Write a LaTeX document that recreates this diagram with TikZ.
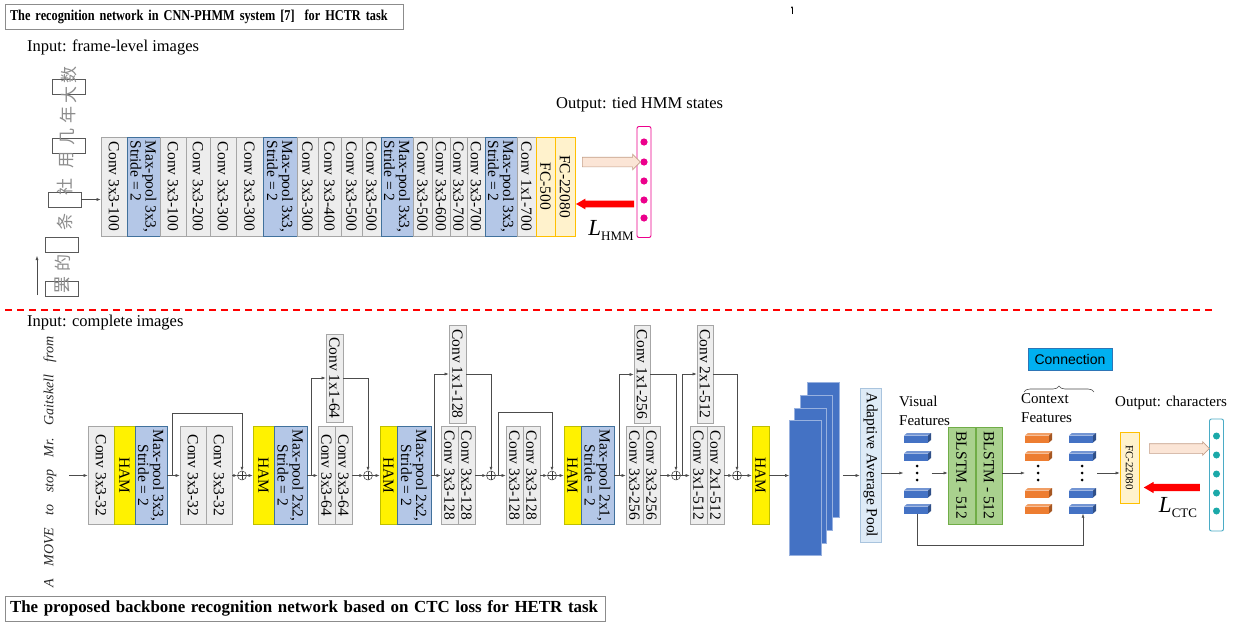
\documentclass[tikz,border=0pt]{standalone}
\usepackage{fontspec}
\setmainfont{Liberation Serif}
\newfontfamily\sansf{Liberation Sans}
\newfontfamily\narrowf[FakeStretch=0.82]{Liberation Serif}
\newfontfamily\cjk{Noto Sans CJK SC}
\usetikzlibrary{arrows.meta,positioning,calc,decorations.pathreplacing,shapes.arrows}
\definecolor{convfill}{HTML}{EDEDED}
\definecolor{convline}{HTML}{A6A6A6}
\definecolor{poolfill}{HTML}{B4C7E7}
\definecolor{poolline}{HTML}{41719C}
\definecolor{hamline}{HTML}{BFBF00}
\definecolor{fcfill}{HTML}{FFF2CC}
\definecolor{fcline}{HTML}{FFC000}
\definecolor{featblue}{HTML}{4472C4}
\definecolor{featorange}{HTML}{ED7D31}
\definecolor{lstmfill}{HTML}{A9D18E}
\definecolor{lstmline}{HTML}{70AD47}
\definecolor{avgfill}{HTML}{DEEBF7}
\definecolor{avgline}{HTML}{A9C4DE}
\definecolor{connfill}{HTML}{00B0F0}
\definecolor{connline}{HTML}{2E75B6}
\definecolor{peach}{HTML}{FBE5D6}
\definecolor{peachline}{HTML}{C5A08A}
\definecolor{outteal}{HTML}{4BACC6}
\definecolor{dotteal}{HTML}{1BA9A9}
\newcommand{\fbar}[3]{% one feature vector: left x, top y, colour
 \fill[#3] (#1,#2+2.5) rectangle (#1+24,#2+9.5);
 \fill[#3!75!white] (#1,#2+2.5) -- (#1+3,#2) -- (#1+27,#2) -- (#1+24,#2+2.5) -- cycle;
 \fill[#3!70!black] (#1+24,#2+2.5) -- (#1+27,#2) -- (#1+27,#2+7) -- (#1+24,#2+9.5) -- cycle;}
\newcommand{\vdotz}[1]{% dots between the vectors
 \foreach \d in {-7,0,7} \fill (#1,473+\d) circle (1.5);}

\begin{document}
\begin{tikzpicture}[x=1pt,y=-1pt,font=\fontsize{15.5}{12}\selectfont,
 blk/.style={draw=#1,line width=.6pt,inner sep=0pt,minimum height=98},
 conv/.style={blk=convline,fill=convfill},
 pool/.style={blk=poolline,fill=poolfill},
 ham/.style={blk=hamline,fill=yellow},
 fc/.style={blk=fcline,fill=fcfill},
 vtxt/.style={label={[rotate=-90,align=center]center:#1}},
 vtxl/.style={label={[rotate=-90,align=left]center:#1}},
 arr/.style={-{Latex[length=4pt,width=3pt]},draw=black!70,line width=.5pt},
 oplus/.style={circle,draw=black!80,line width=.5pt,inner sep=0pt,minimum size=9,
  path picture={\draw[line width=.5pt] (path picture bounding box.north) -- (path picture bounding box.south)
   (path picture bounding box.west) -- (path picture bounding box.east);}},
 title/.style={draw=black!45,line width=.6pt,inner xsep=5pt,minimum height=25,align=left},
 frame/.style={draw=black!65,line width=.5pt,minimum width=33,minimum height=15,inner sep=0pt},
 fmap/.style={draw=featblue!55!white,fill=featblue,line width=.6pt,minimum width=32,minimum height=135,inner sep=0pt},
 col/.style={minimum width=28,minimum height=81,inner sep=0pt},
 outcol/.style={draw=#1,line width=.9pt,rounded corners=2pt,fill=white,minimum width=14,inner sep=0pt},
 fatarr/.style={single arrow,draw=peachline,fill=peach,inner xsep=0pt,inner ysep=4.5pt,
  single arrow head extend=3pt,single arrow tip angle=90,line width=.6pt},
 lossarr/.style={single arrow,fill=red,inner xsep=0pt,inner ysep=3.2pt,single arrow head extend=2pt,
  single arrow tip angle=60,shape border rotate=180},
 lbl/.style={font=\fontsize{16.5}{19}\selectfont,inner sep=0pt}]
\fill[white] (0,0) rectangle (1235,624);
% ---- CNN-PHMM part
\node[title,text width=388,font=\narrowf\bfseries\fontsize{15}{15}\selectfont] (ttop) at (204,17)
 {The recognition network in CNN-PHMM system [7]\ \ for HCTR task};
\node[lbl,anchor=west] (intop) at (27,47) {Input: frame-level images};
\foreach \x/\y [count=\i] in {69/87,69/145.5,64.5/199.5,62/244.5,62/288.5}
 \node[frame] (fr\i) at (\x,\y) {};
\foreach \c/\x/\y [count=\i] in {罢/62/285,的/63/263,条/65/222,社/65/187,用/67/160,几/68/137,年/68/115,大/69/95,数/69/75}
 \node[font=\cjk\fontsize{17}{17}\selectfont,text=black!45,rotate=90,inner sep=0pt] (hz\i) at (\x,\y) {\c};
\coordinate (up0) at (37,295); \coordinate (up1) at (37,256);
\draw[arr] (up0) -- (up1);
\foreach \x/\w/\s/\t [count=\i] in {101/26/conv/{Conv 3x3-100},127/33/pool/{Max-pool 3x3,\\Stride = 2},
 160/26/conv/{Conv 3x3-100},186/24/conv/{Conv 3x3-200},210/26/conv/{Conv 3x3-300},236/27/conv/{Conv 3x3-300},
 263/34/pool/{Max-pool 3x3,\\Stride = 2},297/21/conv/{Conv 3x3-300},318/23/conv/{Conv 3x3-400},
 341/21/conv/{Conv 3x3-500},362/19/conv/{Conv 3x3-500},381/32/pool/{Max-pool 3x3,\\Stride = 2},
 413/19/conv/{Conv 3x3-500},432/18/conv/{Conv 3x3-600},450/17/conv/{Conv 3x3-700},467/18/conv/{Conv 3x3-700},
 485/32/pool/{Max-pool 3x3,\\Stride = 2},517/19/conv/{Conv 1x1-700},536/19/fc/{FC-500},555/20/fc/{FC-22080}}
 \node[\s,minimum width=\w,minimum height=99,vtxl=\t] (t\i) at (\x+\w/2,186.5) {};
\draw[arr] (fr3.east) -- (fr3.east -| t1.west);
\node[lbl,anchor=west] (outtop) at (556,105) {Output: tied HMM states};
\node[outcol=magenta,minimum height=111] (hmm) at (644,182) {};
\foreach \y in {142,162,181,200,218} \fill[magenta] (644,\y) circle (3.6);
\node[fatarr,minimum height=58] (fa1) at (609,162) {};
\node[lossarr,minimum height=58] (la1) at (608,204) {};
\node (lhmm) at (611,230) {\fontsize{23}{23}\selectfont\textit{L}\raisebox{-5pt}{\fontsize{13}{13}\selectfont HMM}};
\coordinate (tk0) at (792,14); \coordinate (tk1) at (792,6);
\draw[-{Latex[length=2pt,width=2pt]},line width=.4pt] (tk0) -- (tk1);
% ---- separator
\coordinate (cut0) at (5,310); \coordinate (cut1) at (1215,310);
\draw[red,line width=1.6pt,dash pattern=on 7pt off 5pt] (cut0) -- (cut1);
% ---- CTC part
\node[lbl,anchor=west] (inbot) at (27,323) {Input: complete images};
\node[font=\itshape\fontsize{14}{14}\selectfont,rotate=90,inner sep=0pt,text=black!85] (hwline) at (50,462)
 {\spaceskip=12pt A MOVE to stop Mr. Gaitskell from};
\coordinate (in0) at (69,475.5);
\node[conv,minimum width=26,vtxt={Conv 3x3-32}] (c1) at (101,475.5) {};
\node[ham,minimum width=21,vtxt=HAM] (h1) at (124.5,475.5) {};
\node[pool,minimum width=32,vtxt={Max-pool 3x3,\\Stride = 2}] (p1) at (151,475.5) {};
\node[conv,minimum width=26,vtxt={Conv 3x3-32}] (c2) at (193,475.5) {};
\node[conv,minimum width=26,vtxt={Conv 3x3-32}] (c3) at (219,475.5) {};
\node[oplus] (s1) at (242,475.5) {};
\node[ham,minimum width=21,vtxt=HAM] (h2) at (263.5,475.5) {};
\node[pool,minimum width=33,vtxt={Max-pool 2x2,\\Stride = 2}] (p2) at (290.5,475.5) {};
\node[conv,minimum width=17,vtxt={Conv 3x3-64}] (c4) at (326.5,475.5) {};
\node[conv,minimum width=17,vtxt={Conv 3x3-64}] (c5) at (343.5,475.5) {};
\node[conv,minimum width=17,minimum height=88,vtxt={Conv 1x1-64}] (k1) at (334.5,378) {};
\node[oplus] (s2) at (368,475.5) {};
\node[ham,minimum width=17,vtxt=HAM] (h3) at (388.5,475.5) {};
\node[pool,minimum width=34,vtxt={Max-pool 2x2,\\Stride = 2}] (p3) at (414,475.5) {};
\node[conv,minimum width=17,vtxt={Conv 3x3-128}] (c6) at (449.5,475.5) {};
\node[conv,minimum width=17,vtxt={Conv 3x3-128}] (c7) at (466.5,475.5) {};
\node[conv,minimum width=17,vtxt={Conv 1x1-128}] (k2) at (457.5,374) {};
\node[oplus] (s3) at (491,475.5) {};
\node[conv,minimum width=17,vtxt={Conv 3x3-128}] (c8) at (514.5,475.5) {};
\node[conv,minimum width=17,vtxt={Conv 3x3-128}] (c9) at (531.5,475.5) {};
\node[oplus] (s4) at (552,475.5) {};
\node[ham,minimum width=17,vtxt=HAM] (h4) at (572.5,475.5) {};
\node[pool,minimum width=33,vtxt={Max-pool 2x1,\\Stride = 2}] (p4) at (597.5,475.5) {};
\node[conv,minimum width=17,vtxt={Conv 3x3-256}] (c10) at (634.5,475.5) {};
\node[conv,minimum width=17,vtxt={Conv 3x3-256}] (c11) at (651.5,475.5) {};
\node[conv,minimum width=16,vtxt={Conv 1x1-256}] (k3) at (642,374.5) {};
\node[oplus] (s5) at (676,475.5) {};
\node[conv,minimum width=17,vtxt={Conv 3x1-512}] (c12) at (698.5,475.5) {};
\node[conv,minimum width=17,vtxt={Conv 2x1-512}] (c13) at (715.5,475.5) {};
\node[conv,minimum width=16,vtxt={Conv 2x1-512}] (k4) at (705,374) {};
\node[oplus] (s6) at (737,475.5) {};
\node[ham,minimum width=17,vtxt=HAM] (h5) at (760.5,475.5) {};
\draw[arr] (in0) -- (c1.west);
\foreach \a/\b in {p1/c2,c3/s1,s1/h2,p2/c4,c5/s2,s2/h3,p3/c6,c7/s3,s3/c8,c9/s4,s4/h4,p4/c10,c11/s5,s5/c12,c13/s6,s6/h5}
 \draw[arr] (\a.east) -- (\b.west);
\draw[arr] ($(p1.east)+(5,0)$) -- ++(0,-62.5) -| (s1.north);
\draw[arr] ($(p2.east)+(4,0)$) |- (k1.west);
\draw[arr] (k1.east) -| (s2.north);
\draw[arr] ($(p3.east)+(3,0)$) |- (k2.west);
\draw[arr] (k2.east) -| (s3.north);
\draw[arr] ($(s3.east)+(2.5,0)$) -- ++(0,-63.5) -| (s4.north);
\draw[arr] ($(p4.east)+(5,0)$) |- (k3.west);
\draw[arr] (k3.east) -| (s5.north);
\draw[arr] ($(s5.east)+(1.5,0)$) |- (k4.west);
\draw[arr] (k4.east) -| (s6.north);
% feature maps and sequence part
\foreach \x/\y [count=\i] in {823.5/449.5,816.5/462.5,810.5/475.5,805.5/488}
 \node[fmap] (fm\i) at (\x,\y) {};
\draw[arr] (h5.east) -- (h5.east -| fm4.west);
\node[blk=avgline,fill=avgfill,minimum width=21,minimum height=154,vtxt={Adaptive Average Pool}] (aap) at (870.5,465) {};
\draw[arr] ([xshift=3pt]fm1.east |- h5.east) -- (aap.west |- h5.east);
\node[lbl,font=\fontsize{15}{19}\selectfont,anchor=north west,align=left] (vislab) at (899,396) {Visual\\Features};
\node[col] (vis) at (917.5,473) {};
\foreach \y in {433,451,488,504} \fbar{904}{\y}{featblue};
\vdotz{917}
\node[blk=lstmline,fill=lstmfill,minimum width=27,minimum height=97,vtxt={BLSTM - 512}] (bl1) at (961.5,475.5) {};
\node[blk=lstmline,fill=lstmfill,minimum width=26,minimum height=97,vtxt={BLSTM - 512}] (bl2) at (989,475.5) {};
\node[lbl,font=\fontsize{15}{19}\selectfont,anchor=north west,align=left] (ctxlab) at (1021,393) {Context\\Features};
\node[col] (ctx1) at (1039,473) {};
\node[col] (ctx2) at (1083,473) {};
\foreach \y in {433,451,488,504} {\fbar{1025}{\y}{featorange} \fbar{1069}{\y}{featblue}}
\vdotz{1038} \vdotz{1082}
\draw[decorate,decoration={brace,amplitude=6pt},black!70,line width=.6pt] (1024,392) -- (1094,392);
\node[draw=connline,fill=connfill,minimum width=84,minimum height=22,inner sep=0pt,
 font=\sansf\fontsize{14}{14}\selectfont] (conn) at (1070,359) {Connection};
\node[fc,minimum width=19,minimum height=71,label={[rotate=-90,font=\fontsize{11}{11}\selectfont]center:FC-22080}] (fcb) at (1129.5,467.5) {};
\draw[arr] (aap.east |- vis.west) -- (vis.west);
\draw[arr] (vis.east) -- (vis.east -| bl1.west);
\draw[arr] (bl2.east |- ctx1.west) -- (ctx1.west);
\draw[arr] (ctx2.east) -- (ctx2.east -| fcb.west);
\draw[arr] (vis.south) -- ++(0,32) -| (ctx2.south);
\node[lbl,anchor=west,font=\fontsize{15}{15}\selectfont] (outbot) at (1115,403) {Output: characters};
\node[outcol=outteal,minimum height=112] (ctc) at (1216.5,475) {};
\foreach \y in {436,455,474,493,511} \fill[dotteal] (1216.5,\y) circle (3.5);
\node[fatarr,minimum height=60,single arrow head extend=2pt] (fa2) at (1177,448.5) {};
\node[lossarr,minimum height=56,inner ysep=3.5pt] (la2) at (1175,487.5) {};
\node (lctc) at (1178,508) {\fontsize{23}{23}\selectfont\textit{L}\raisebox{-5pt}{\fontsize{13}{13}\selectfont CTC}};
\node[title,text width=590,font=\bfseries\fontsize{16.9}{17}\selectfont] (tbot) at (305,608.5)
 {The proposed backbone recognition network based on CTC loss for HETR task};
\end{tikzpicture}
\end{document}
